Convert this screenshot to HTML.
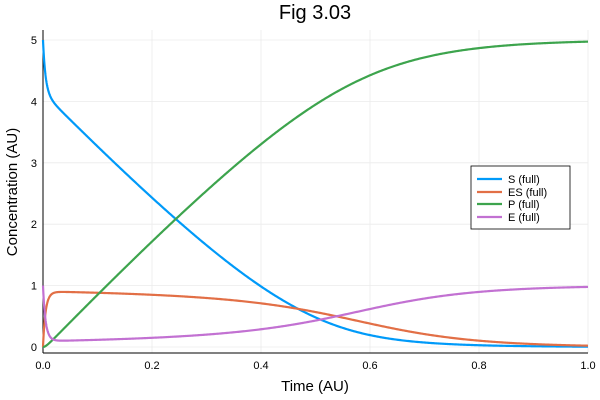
<!DOCTYPE html>
<html><head><meta charset="utf-8"><style>
body{margin:0;background:#fff;}
svg{display:block;font-family:"Liberation Sans","DejaVu Sans",sans-serif;}
</style></head><body>
<svg id="s" width="600" height="400" viewBox="0 0 600 400">
<rect width="600" height="400" fill="#fff"/>
<g stroke="#ebebeb" stroke-width="0.8" id="grid"></g>
<line x1="43" y1="353" x2="588" y2="353" stroke="#000" stroke-width="1"/>
<line x1="43" y1="30" x2="43" y2="353" stroke="#000" stroke-width="1"/>
<g id="ticks" font-size="11" fill="#000"></g>
<g id="curves" fill="none" stroke-width="2.2"></g>
<text x="315" y="19" font-size="20" text-anchor="middle">Fig 3.03</text>
<text x="315" y="391" font-size="15" text-anchor="middle">Time (AU)</text>
<text transform="translate(17,192) rotate(-90)" font-size="15" text-anchor="middle">Concentration (AU)</text>
<rect x="471" y="166" width="99" height="63" fill="#fff" stroke="#000" stroke-width="0.8"/>
<g font-size="11">
<line x1="477" y1="179" x2="502" y2="179" stroke="#009af9" stroke-width="2.2"/><text x="508" y="183">S (full)</text>
<line x1="477" y1="192" x2="502" y2="192" stroke="#e26f46" stroke-width="2.2"/><text x="508" y="196">ES (full)</text>
<line x1="477" y1="204" x2="502" y2="204" stroke="#3da44d" stroke-width="2.2"/><text x="508" y="208">P (full)</text>
<line x1="477" y1="217" x2="502" y2="217" stroke="#c271d2" stroke-width="2.2"/><text x="508" y="221">E (full)</text>
</g>
</svg>
<script>
var NS="http://www.w3.org/2000/svg";
function X(t){return 43+t*545;}function Y(v){return 347-v*61.4;}
var g=document.getElementById("grid"),tk=document.getElementById("ticks");
function el(p,n,a,txt){var e=document.createElementNS(NS,n);for(var k in a)e.setAttribute(k,a[k]);if(txt!=null)e.textContent=txt;p.appendChild(e);}
for(var i=0;i<=5;i++){var x=X(i*0.2);el(g,"line",{x1:x,y1:30,x2:x,y2:353});el(tk,"text",{x:x,y:369,"text-anchor":"middle"},(i*0.2).toFixed(1));}
for(var j=0;j<=5;j++){var y=Y(j);el(g,"line",{x1:43,y1:y,x2:588,y2:y});el(tk,"text",{x:37,y:y+4,"text-anchor":"end"},j);}
var k1=40,km=7.6,k2=10;
function f(s){var S=s[0],ES=s[1],E=s[3];var a=k1*S*E-km*ES,b=k2*ES;return [-a,a-b,b,-a+b];}
var s=[5,0,0,1],dt=0.0001,pts=[[],[],[],[]];
for(var n=0;n<=10000;n++){
 if(n%20==0||n<600){var t=n*dt;for(var q=0;q<4;q++)pts[q].push(X(t).toFixed(2)+","+Y(s[q]).toFixed(2));}
 var a=f(s),b=f(s.map((v,i)=>v+dt/2*a[i])),c=f(s.map((v,i)=>v+dt/2*b[i])),d=f(s.map((v,i)=>v+dt*c[i]));
 s=s.map((v,i)=>v+dt/6*(a[i]+2*b[i]+2*c[i]+d[i]));
}
var cols=["#009af9","#e26f46","#3da44d","#c271d2"],cv=document.getElementById("curves");
for(var q=0;q<4;q++)el(cv,"polyline",{points:pts[q].join(" "),stroke:cols[q]});
</script>
</body></html>
